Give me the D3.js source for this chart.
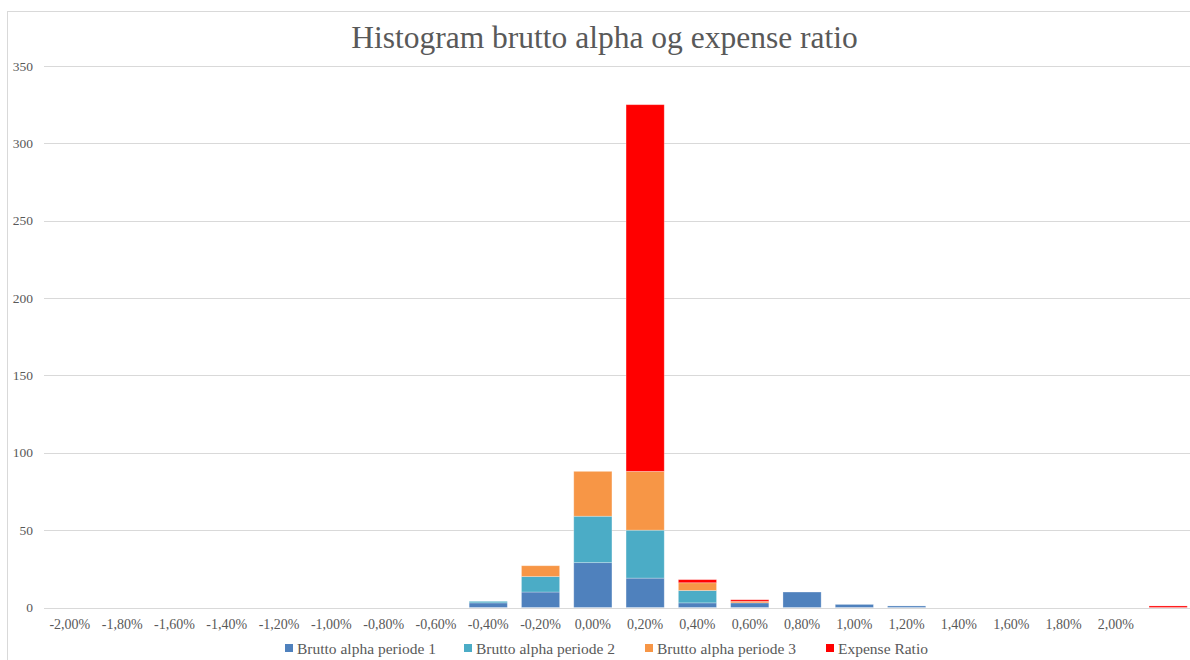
<!DOCTYPE html>
<html>
<head>
<meta charset="utf-8">
<script src="https://cdn.jsdelivr.net/npm/d3@7"></script>
<style>
  body { margin: 0; background: #fff; }
  svg { display: block; font-family: "Liberation Serif", "DejaVu Serif", serif; }
</style>
</head>
<body>
<svg id="chart" width="1190" height="660"></svg>
<script>
const categories = [
  "-2,00%", "-1,80%", "-1,60%", "-1,40%", "-1,20%", "-1,00%", "-0,80%", "-0,60%",
  "-0,40%", "-0,20%", "0,00%", "0,20%", "0,40%", "0,60%", "0,80%", "1,00%",
  "1,20%", "1,40%", "1,60%", "1,80%", "2,00%", ""
];
const periode1 = [0, 0, 0, 0, 0, 0, 0, 0, 3, 10, 29, 19, 3, 3, 10, 2, 1, 0, 0, 0, 0, 0];
const periode2 = [0, 0, 0, 0, 0, 0, 0, 0, 1, 10, 30, 31, 8, 0, 0, 0, 0, 0, 0, 0, 0, 0];
const periode3 = [0, 0, 0, 0, 0, 0, 0, 0, 0, 7, 29, 38, 5, 1, 0, 0, 0, 0, 0, 0, 0, 0];
const expenseRatio = [0, 0, 0, 0, 0, 0, 0, 0, 0, 0, 0, 237, 2, 1, 0, 0, 0, 0, 0, 0, 0, 1];
const seriesNames = ["Brutto alpha periode 1", "Brutto alpha periode 2", "Brutto alpha periode 3", "Expense Ratio"];
const seriesColors = ["#4F81BD", "#4BACC6", "#F79646", "#FF0000"];
const yTicks = [0, 50, 100, 150, 200, 250, 300, 350];

(function () {
  const svg = d3.select("#chart");
  const textColor = "#595959";
  const gridColor = "#D9D9D9";

  // chart frame (runs off the right/bottom edge like the original)
  svg.append("rect")
    .attr("x", 7.5).attr("y", 11.5)
    .attr("width", 1200).attr("height", 700)
    .attr("fill", "none").attr("stroke", gridColor);

  svg.append("text")
    .attr("x", 604.5).attr("y", 48)
    .attr("text-anchor", "middle")
    .attr("font-size", 31.5)
    .attr("fill", textColor)
    .text("Histogram brutto alpha og expense ratio");

  const x = d3.scaleBand()
    .domain(d3.range(categories.length))
    .range([43.7, 1194.3])
    .paddingInner(0.27)
    .paddingOuter(0.135);

  const y = d3.scaleLinear().domain([0, 350]).range([607.5, 66]);

  // gridlines
  svg.append("g")
    .selectAll("line")
    .data(yTicks)
    .join("line")
    .attr("x1", 44).attr("x2", 1194)
    .attr("y1", (d) => Math.round(y(d)) + 0.5)
    .attr("y2", (d) => Math.round(y(d)) + 0.5)
    .attr("stroke", gridColor)
    .attr("stroke-width", 1);

  svg.append("g")
    .selectAll("text")
    .data(yTicks)
    .join("text")
    .attr("x", 33)
    .attr("y", (d) => y(d) + 4.5)
    .attr("text-anchor", "end")
    .attr("font-size", 13.5)
    .attr("fill", textColor)
    .text((d) => d);

  const rows = categories.map((c, i) => ({
    s0: periode1[i], s1: periode2[i], s2: periode3[i], s3: expenseRatio[i]
  }));
  const stacked = d3.stack().keys(["s0", "s1", "s2", "s3"])(rows);

  svg.append("g")
    .selectAll("g")
    .data(stacked)
    .join("g")
    .attr("fill", (d, i) => seriesColors[i])
    .selectAll("rect")
    .data((d) => d.map((v, i) => ({ v, i })).filter((e) => e.v[1] > e.v[0]))
    .join("rect")
    .attr("x", (d) => x(d.i))
    .attr("width", x.bandwidth())
    .attr("y", (d) => y(d.v[1]))
    .attr("height", (d) => y(d.v[0]) - y(d.v[1]))
    .attr("stroke", "#fff")
    .attr("stroke-opacity", 0.35)
    .attr("stroke-width", 0.8);

  // x axis labels
  const xAxis = d3.axisBottom(x)
    .tickFormat((i) => categories[i])
    .tickSize(0)
    .tickPadding(12);
  const gx = svg.append("g")
    .attr("transform", `translate(0,${y(0)})`)
    .call(xAxis);
  gx.select(".domain").remove();
  gx.selectAll("text")
    .attr("font-family", "'Liberation Serif', serif")
    .attr("font-size", 14)
    .attr("fill", textColor);

  // legend
  const legendX = [285, 464, 645, 826];
  const legend = svg.append("g")
    .selectAll("g")
    .data(seriesNames)
    .join("g")
    .attr("transform", (d, i) => `translate(${legendX[i]},648)`);
  legend.append("rect")
    .attr("x", 0).attr("y", -4)
    .attr("width", 8).attr("height", 8)
    .attr("fill", (d, i) => seriesColors[i]);
  legend.append("text")
    .attr("x", 12)
    .attr("y", 5.5)
    .attr("font-size", 15.5)
    .attr("fill", textColor)
    .text((d) => d);
})();
</script>
</body>
</html>
